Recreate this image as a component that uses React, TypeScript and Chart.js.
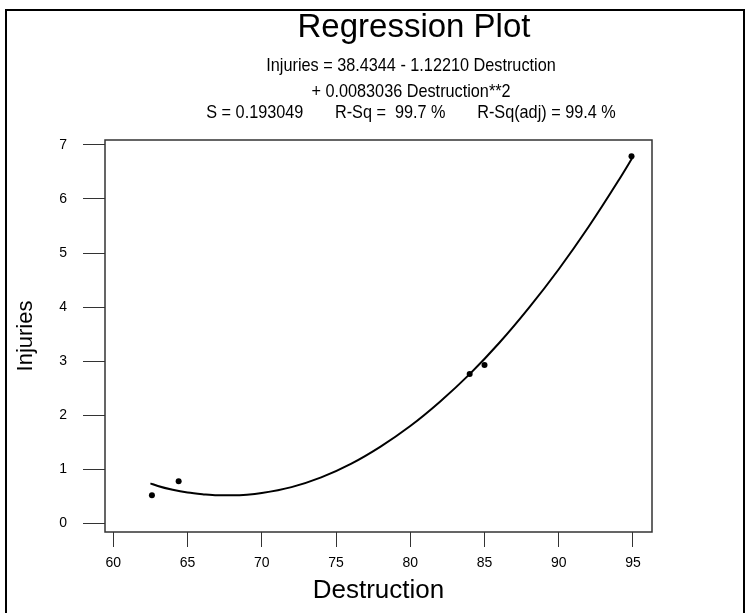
import React, { useEffect, useRef } from "react";
import { Chart, registerables } from "chart.js";

Chart.register(...registerables);

// Observed data points
const destruction = [62.6, 64.4, 84.0, 85.0, 94.9];
const injuries = [0.52, 0.78, 2.76, 2.93, 6.79];

// Fitted curve
const fitX = [62.5, 63, 64, 65, 66, 67, 68, 69, 70, 72, 74, 76, 78, 80, 82, 84, 86, 88, 90, 92, 94, 95];
const fitY = [0.74, 0.69, 0.62, 0.57, 0.54, 0.52, 0.52, 0.53, 0.56, 0.67, 0.85, 1.1, 1.42, 1.8, 2.25, 2.76, 3.34, 3.99, 4.7, 5.48, 6.33, 6.78];

const xTicks = [60, 65, 70, 75, 80, 85, 90, 95];
const yTicks = [0, 1, 2, 3, 4, 5, 6, 7];

const titleText = "Regression Plot";
const subtitleLines = [
  "Injuries = 38.4344 - 1.12210 Destruction",
  "+ 0.0083036 Destruction**2",
  "S = 0.193049       R-Sq =  99.7 %       R-Sq(adj) = 99.4 %",
];
const xTitle = "Destruction";
const yTitle = "Injuries";

const FAMILY = "'Liberation Sans', Arial, sans-serif";

const framePlugin = {
  id: "frameAndHeader",
  afterDraw(chart: any) {
    const ctx = chart.ctx as CanvasRenderingContext2D;
    const a = chart.chartArea;
    ctx.save();
    // outer frame
    ctx.strokeStyle = "#000";
    ctx.lineWidth = 2;
    ctx.beginPath();
    ctx.moveTo(6, chart.height + 2);
    ctx.lineTo(6, 10);
    ctx.lineTo(744, 10);
    ctx.lineTo(744, chart.height + 2);
    ctx.stroke();
    // plot box
    ctx.strokeStyle = "#333";
    ctx.lineWidth = 1.5;
    ctx.strokeRect(a.left, a.top, a.right - a.left, a.bottom - a.top);
    // header texts
    ctx.fillStyle = "#000";
    ctx.textAlign = "center";
    ctx.textBaseline = "alphabetic";
    ctx.font = `33px ${FAMILY}`;
    ctx.fillText(titleText, 414, 37);
    ctx.font = `19px ${FAMILY}`;
    const baselines = [71, 97, 118];
    subtitleLines.forEach((t, i) => {
      ctx.save();
      ctx.translate(411, baselines[i]);
      ctx.scale(0.855, 1);
      ctx.fillText(t, 0, 0);
      ctx.restore();
    });
    ctx.restore();
  },
};

export default function App() {
  const ref = useRef<HTMLCanvasElement | null>(null);
  useEffect(() => {
    if (!ref.current) return;
    const chart = new Chart(ref.current, {
      type: "scatter",
      data: {
        datasets: [
          {
            label: "Fit",
            data: fitX.map((x, i) => ({ x, y: fitY[i] })),
            showLine: true,
            borderColor: "#000",
            borderWidth: 2,
            pointRadius: 0,
            cubicInterpolationMode: "monotone",
            fill: false,
          },
          {
            label: "Data",
            data: destruction.map((x, i) => ({ x, y: injuries[i] })),
            showLine: false,
            pointRadius: 3,
            pointBackgroundColor: "#000",
            pointBorderColor: "#000",
            borderWidth: 0,
          },
        ],
      },
      options: {
        responsive: false,
        animation: false,
        layout: { padding: { top: 140, right: 93, bottom: 0, left: 0 } },
        plugins: {
          legend: { display: false },
          tooltip: { enabled: false },
          title: { display: false },
        },
        scales: {
          x: {
            type: "linear",
            min: 59.44,
            max: 96.28,
            afterBuildTicks: (s: any) => {
              s.ticks = xTicks.map((v) => ({ value: v }));
            },
            afterFit: (s: any) => {
              s.height = 81;
            },
            grid: { drawOnChartArea: false, tickLength: 15, color: "#333", lineWidth: 1 },
            border: { display: false },
            ticks: {
              padding: 8,
              color: "#000",
              maxRotation: 0,
              autoSkip: false,
              font: { size: 14, family: FAMILY },
            },
            title: {
              display: true,
              text: xTitle,
              color: "#000",
              font: { size: 26, family: FAMILY },
              padding: { top: 0, bottom: 7 },
            },
          },
          y: {
            type: "linear",
            min: -0.16,
            max: 7.09,
            afterBuildTicks: (s: any) => {
              s.ticks = yTicks.map((v) => ({ value: v }));
            },
            afterFit: (s: any) => {
              s.width = 105;
            },
            grid: { drawOnChartArea: false, tickLength: 22, color: "#333", lineWidth: 1 },
            border: { display: false },
            ticks: {
              padding: 16,
              color: "#000",
              autoSkip: false,
              font: { size: 14, family: FAMILY },
            },
            title: {
              display: true,
              text: yTitle,
              color: "#000",
              font: { size: 22, family: FAMILY },
              padding: { top: 13, bottom: 0 },
            },
          },
        },
      },
      plugins: [framePlugin],
    });
    return () => chart.destroy();
  }, []);
  return (
    <div style={{ position: "absolute", left: 0, top: 0, width: 745, height: 613, background: "#fff" }}>
      <canvas ref={ref} width={745} height={613} style={{ display: "block" }} />
    </div>
  );
}
